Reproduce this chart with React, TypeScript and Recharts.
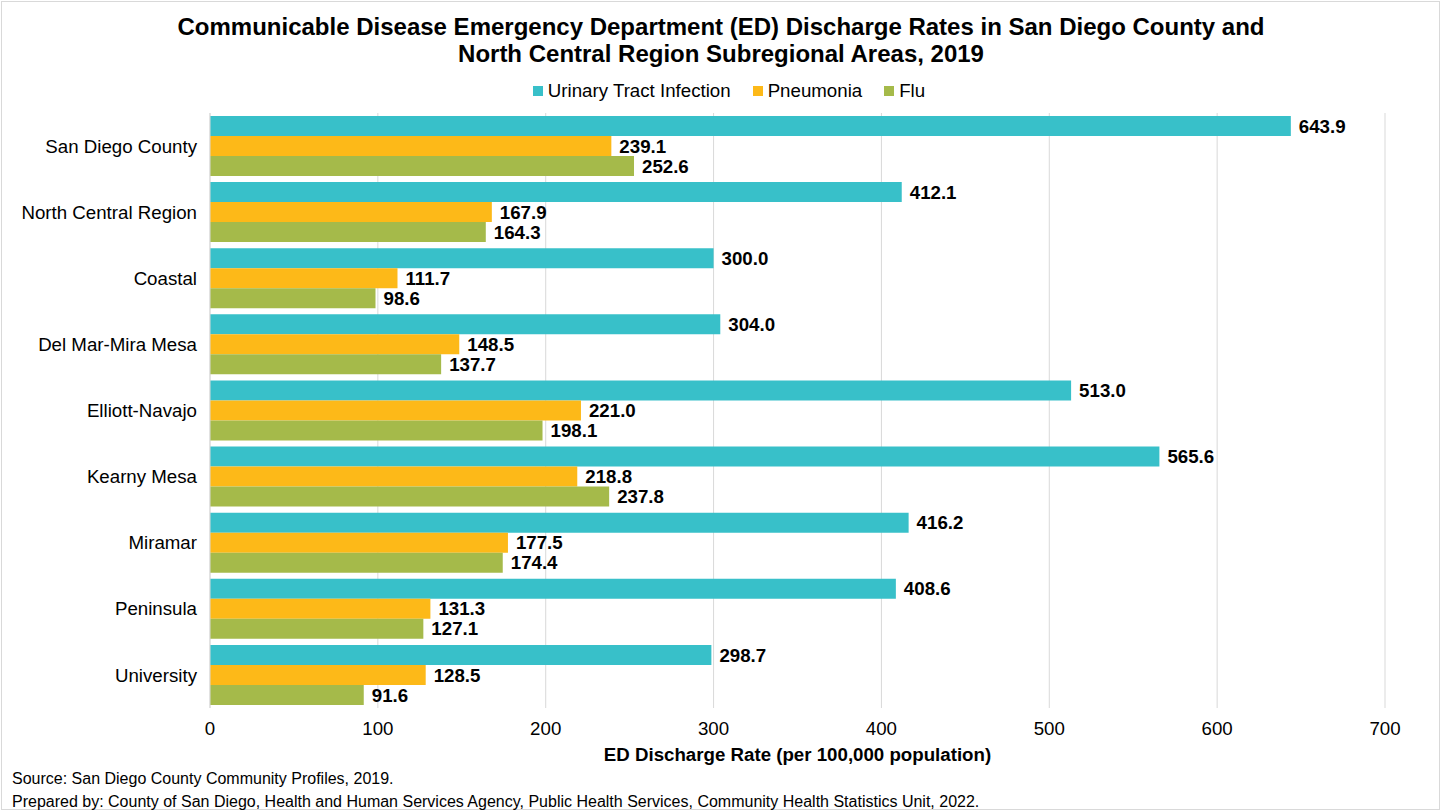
import { Bar, BarChart, CartesianGrid, LabelList, XAxis, YAxis } from "recharts";

const areas = [
  "San Diego County",
  "North Central Region",
  "Coastal",
  "Del Mar-Mira Mesa",
  "Elliott-Navajo",
  "Kearny Mesa",
  "Miramar",
  "Peninsula",
  "University",
];
const uti = [643.9, 412.1, 300.0, 304.0, 513.0, 565.6, 416.2, 408.6, 298.7];
const pneumonia = [239.1, 167.9, 111.7, 148.5, 221.0, 218.8, 177.5, 131.3, 128.5];
const flu = [252.6, 164.3, 98.6, 137.7, 198.1, 237.8, 174.4, 127.1, 91.6];
const xTicks = [0, 100, 200, 300, 400, 500, 600, 700];

const series = [
  { key: "uti", name: "Urinary Tract Infection", color: "#38C0C9" },
  { key: "pneumonia", name: "Pneumonia", color: "#FDB918" },
  { key: "flu", name: "Flu", color: "#A5BA4A" },
];

const data = areas.map((name, i) => ({ name, uti: uti[i], pneumonia: pneumonia[i], flu: flu[i] }));

const FONT = "'Liberation Sans', Arial, sans-serif";
const FS = 18.7;
const labelStyle = { fontSize: FS, fontWeight: 700, fill: "#000", fontFamily: FONT };
const fmt = (v: unknown) => Number(v).toFixed(1);

export default function App() {
  return (
    <div style={{ position: "absolute", left: 0, top: 0, width: 1442, height: 811, fontFamily: FONT, background: "#fff" }}>
      <div
        style={{
          position: "absolute",
          left: 1,
          top: 1,
          width: 1439,
          height: 809,
          border: "1px solid #d9d9d9",
          boxSizing: "border-box",
        }}
      />
      <div
        style={{
          position: "absolute",
          top: 13,
          left: 0,
          width: 1442,
          textAlign: "center",
          fontSize: 24,
          fontWeight: 700,
          lineHeight: "27px",
          color: "#000",
        }}
      >
        Communicable Disease Emergency Department (ED) Discharge Rates in San Diego County and
        <br />
        North Central Region Subregional Areas, 2019
      </div>
      <div
        style={{
          position: "absolute",
          top: 80,
          left: 8,
          width: 1442,
          display: "flex",
          justifyContent: "center",
          gap: 22,
          fontSize: FS,
          lineHeight: "22px",
          color: "#000",
        }}
      >
        {series.map((s) => (
          <span key={s.key} style={{ display: "flex", alignItems: "center" }}>
            <span style={{ width: 10, height: 10, background: s.color, marginRight: 5, display: "inline-block" }} />
            {s.name}
          </span>
        ))}
      </div>
      <BarChart
        width={1442}
        height={811}
        data={data}
        layout="vertical"
        margin={{ top: 113, right: 57, left: 0, bottom: 73 }}
        barCategoryGap={3}
        barGap={0}
        style={{ position: "absolute", left: 0, top: 0 }}
      >
        <CartesianGrid horizontal={false} stroke="#d9d9d9" />
        <XAxis
          type="number"
          domain={[0, 700]}
          ticks={xTicks}
          height={30}
          tickLine={false}
          axisLine={false}
          tickSize={0}
          tickMargin={14}
          tick={{ fontSize: FS, fill: "#000", fontFamily: FONT }}
        />
        <YAxis
          type="category"
          dataKey="name"
          width={210}
          tickLine={false}
          tickSize={0}
          tickMargin={13}
          axisLine={{ stroke: "#d9d9d9" }}
          tick={{ fontSize: FS, fill: "#000", fontFamily: FONT }}
        />
        {series.map((s) => (
          <Bar key={s.key} dataKey={s.key} name={s.name} fill={s.color} isAnimationActive={false}>
            <LabelList dataKey={s.key} position="right" offset={8} formatter={fmt} style={labelStyle} />
          </Bar>
        ))}
      </BarChart>
      <div
        style={{
          position: "absolute",
          top: 744,
          left: 210,
          width: 1175,
          textAlign: "center",
          fontSize: FS,
          fontWeight: 700,
          color: "#000",
        }}
      >
        ED Discharge Rate (per 100,000 population)
      </div>
      <div style={{ position: "absolute", top: 767, left: 12, fontSize: 16, lineHeight: "23px", color: "#000" }}>
        Source: San Diego County Community Profiles, 2019.
        <br />
        Prepared by: County of San Diego, Health and Human Services Agency, Public Health Services, Community Health
        Statistics Unit, 2022.
      </div>
    </div>
  );
}
